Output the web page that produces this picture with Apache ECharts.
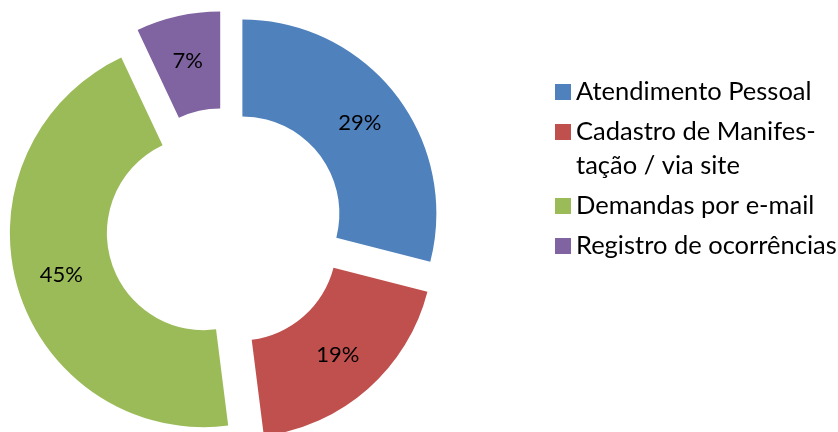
<!DOCTYPE html>
<html>
<head>
<meta charset="utf-8">
<script src="https://cdn.jsdelivr.net/npm/echarts@6/dist/echarts.min.js"></script>
<style>
  html, body { margin: 0; padding: 0; background: #fff; }
  #chart { width: 838px; height: 432px; }
</style>
</head>
<body>
<div id="chart"></div>
<script>
// dados do gráfico
var categorias = ["Atendimento Pessoal", "Cadastro de Manifestação / via site", "Demandas por e-mail", "Registro de ocorrências"];
var rotulosLegenda = [["Atendimento Pessoal"], ["Cadastro de Manifes-", "tação / via site"], ["Demandas por e-mail"], ["Registro de ocorrências"]];
var valores = [29, 19, 45, 7];
var cores = ["#4F81BD", "#C0504D", "#9BBB59", "#8064A2"];

var chart = echarts.init(document.getElementById("chart"));

var dados = categorias.map(function (nome, i) {
  return { name: nome, value: valores[i], selected: true, itemStyle: { color: cores[i] } };
});

// itens com duas linhas: empurra o texto para baixo para alinhar a 1a linha com o quadrado
var legendaDados = categorias.map(function (nome, i) {
  var item = { name: nome };
  var n = rotulosLegenda[i].length;
  if (n > 1) {
    item.textStyle = { padding: [34 * (n - 1), 0, 0, 0] };
  }
  return item;
});

chart.setOption({
  animation: false,
  legend: {
    orient: "vertical",
    left: 555,
    top: 79,
    padding: 0,
    itemWidth: 16,
    itemHeight: 16,
    itemGap: 14,
    icon: "rect",
    selectedMode: false,
    data: legendaDados,
    formatter: function (nome) {
      return rotulosLegenda[categorias.indexOf(nome)].map(function (l) {
        return "{t|" + l + "}";
      }).join("\n");
    },
    textStyle: {
      rich: {
        t: {
          fontFamily: "Lato",
          fontSize: 25.5,
          lineHeight: 34,
          color: "#000"
        }
      }
    }
  },
  series: [
    {
      type: "pie",
      center: [225, 227],
      radius: [97, 194],
      startAngle: 90,
      clockwise: true,
      selectedMode: "multiple",
      selectedOffset: 22,
      avoidLabelOverlap: false,
      label: {
        show: true,
        position: "inside",
        formatter: "{c}%",
        fontFamily: "Lato",
        fontSize: 22,
        color: "#000"
      },
      labelLine: { show: false },
      emphasis: { scale: false },
      data: dados
    }
  ]
});
</script>
</body>
</html>
